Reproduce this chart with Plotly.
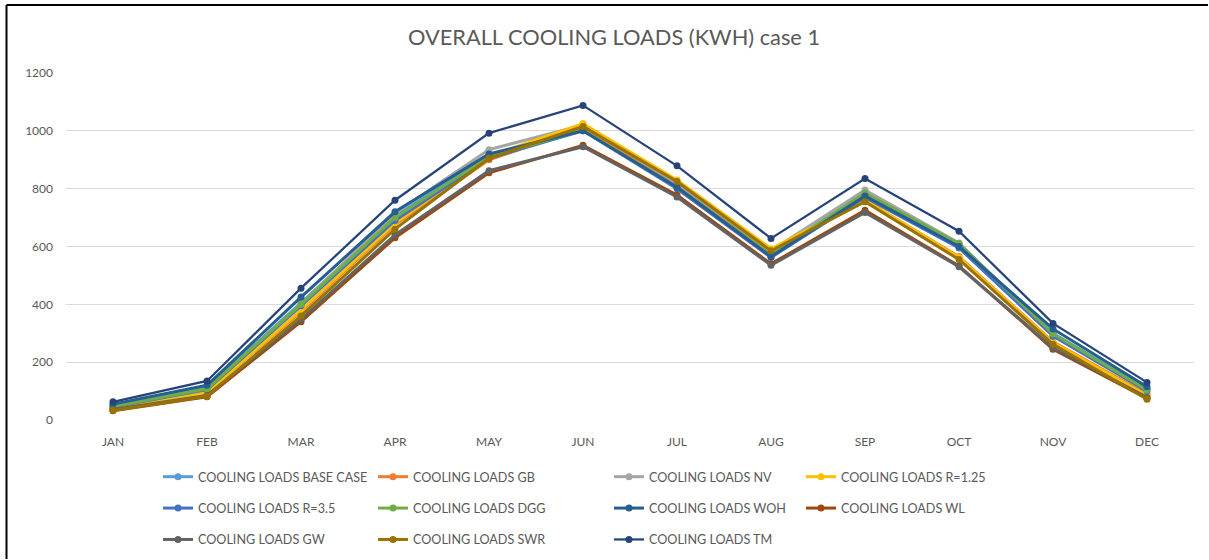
import plotly.graph_objects as go

# Monthly overall cooling loads (kWh), case 1
months = ["JAN", "FEB", "MAR", "APR", "MAY", "JUN", "JUL", "AUG", "SEP", "OCT", "NOV", "DEC"]

base_case = [50, 112, 405, 705, 915, 1005, 815, 575, 785, 605, 300, 108]
gb = [40, 95, 375, 675, 900, 1010, 820, 580, 760, 565, 270, 90]
nv = [48, 108, 400, 715, 935, 1020, 820, 585, 795, 612, 295, 104]
r_125 = [38, 95, 380, 680, 912, 1025, 830, 592, 762, 562, 268, 85]
r_35 = [45, 105, 395, 690, 905, 1000, 800, 562, 770, 595, 290, 100]
dgg = [47, 108, 400, 700, 910, 1002, 805, 570, 785, 610, 298, 104]
woh = [55, 120, 425, 720, 920, 1000, 805, 565, 775, 600, 315, 115]
wl = [32, 80, 340, 630, 855, 950, 778, 540, 725, 533, 245, 75]
gw = [36, 85, 348, 640, 862, 945, 771, 535, 718, 530, 250, 78]
swr = [33, 82, 360, 660, 905, 1015, 825, 585, 755, 555, 262, 72]
tm = [63, 135, 456, 760, 992, 1088, 879, 628, 835, 653, 334, 130]

series = [
    ("COOLING LOADS BASE CASE", base_case, "#5B9BD5", "legend"),
    ("COOLING LOADS GB", gb, "#ED7D31", "legend2"),
    ("COOLING LOADS NV", nv, "#A5A5A5", "legend3"),
    ("COOLING LOADS R=1.25", r_125, "#FFC000", "legend4"),
    ("COOLING LOADS R=3.5", r_35, "#4472C4", "legend"),
    ("COOLING LOADS DGG", dgg, "#70AD47", "legend2"),
    ("COOLING LOADS WOH", woh, "#255E91", "legend3"),
    ("COOLING LOADS WL", wl, "#9E480E", "legend4"),
    ("COOLING LOADS GW", gw, "#636363", "legend"),
    ("COOLING LOADS SWR", swr, "#997300", "legend2"),
    ("COOLING LOADS TM", tm, "#264478", "legend3"),
]

W, H = 1209, 560
ML, MR, MT, MB = 66, 15, 73, 140

TEXT = "#595959"
FONT = "Lato"

fig = go.Figure()
for i, (name, vals, color, leg) in enumerate(series):
    lw = 2.25 if name.endswith("TM") else 3
    fig.add_trace(go.Scatter(
        x=months, y=vals, name=name, mode="lines+markers",
        line=dict(color=color, width=lw),
        marker=dict(color=color, size=7, symbol="circle"),
        legend=leg, legendgroup=f"g{i}",
    ))

# frame edges in pixel offsets from the plot area's left/top corner
left_px = 6.5 - ML
top_px = MT - 5
shapes = [
    dict(type="line", xref="paper", yref="paper",
         xsizemode="pixel", ysizemode="pixel", xanchor=0, yanchor=1,
         x0=left_px, x1=W - 1 - ML, y0=top_px, y1=top_px,
         line=dict(color="black", width=2)),
    dict(type="line", xref="paper", yref="paper",
         xsizemode="pixel", ysizemode="pixel", xanchor=0, yanchor=1,
         x0=left_px, x1=left_px, y0=top_px, y1=top_px - (H - 6),
         line=dict(color="black", width=2)),
]

legend_common = dict(
    orientation="v", xref="container", yref="container",
    xanchor="left", yanchor="top", tracegroupgap=12,
    font=dict(family=FONT, size=12.6, color=TEXT),
    bgcolor="rgba(0,0,0,0)", borderwidth=0, itemwidth=30,
)
leg_top = 1 - 462 / H

fig.update_layout(
    width=W, height=H,
    margin=dict(l=ML, r=MR, t=MT, b=MB, autoexpand=False),
    paper_bgcolor="white", plot_bgcolor="white",
    font=dict(family=FONT, color=TEXT),
    title=dict(text="OVERALL COOLING LOADS (KWH) case 1", x=614 / W, xanchor="center",
               xref="container", y=1 - 37 / H, yanchor="middle", yref="container",
               font=dict(family=FONT, size=21.8, color=TEXT)),
    xaxis=dict(type="category", range=[-0.5, 11.5], showgrid=False, zeroline=False,
               showline=False, ticks="", tickfont=dict(family=FONT, size=12, color=TEXT),
               ticklabelstandoff=13, automargin=False, tickangle=0),
    yaxis=dict(range=[0, 1200], dtick=200, showgrid=True, gridcolor="#D9D9D9", gridwidth=1,
               zeroline=False, showline=False, ticks="", automargin=False,
               tickfont=dict(family=FONT, size=12, color=TEXT), ticklabelstandoff=12),
    legend=dict(x=158 / W, y=leg_top, **legend_common),
    legend2=dict(x=373 / W, y=leg_top, **legend_common),
    legend3=dict(x=609 / W, y=leg_top, **legend_common),
    legend4=dict(x=801 / W, y=leg_top, **legend_common),
    shapes=shapes,
)

fig.write_html("out.html")
